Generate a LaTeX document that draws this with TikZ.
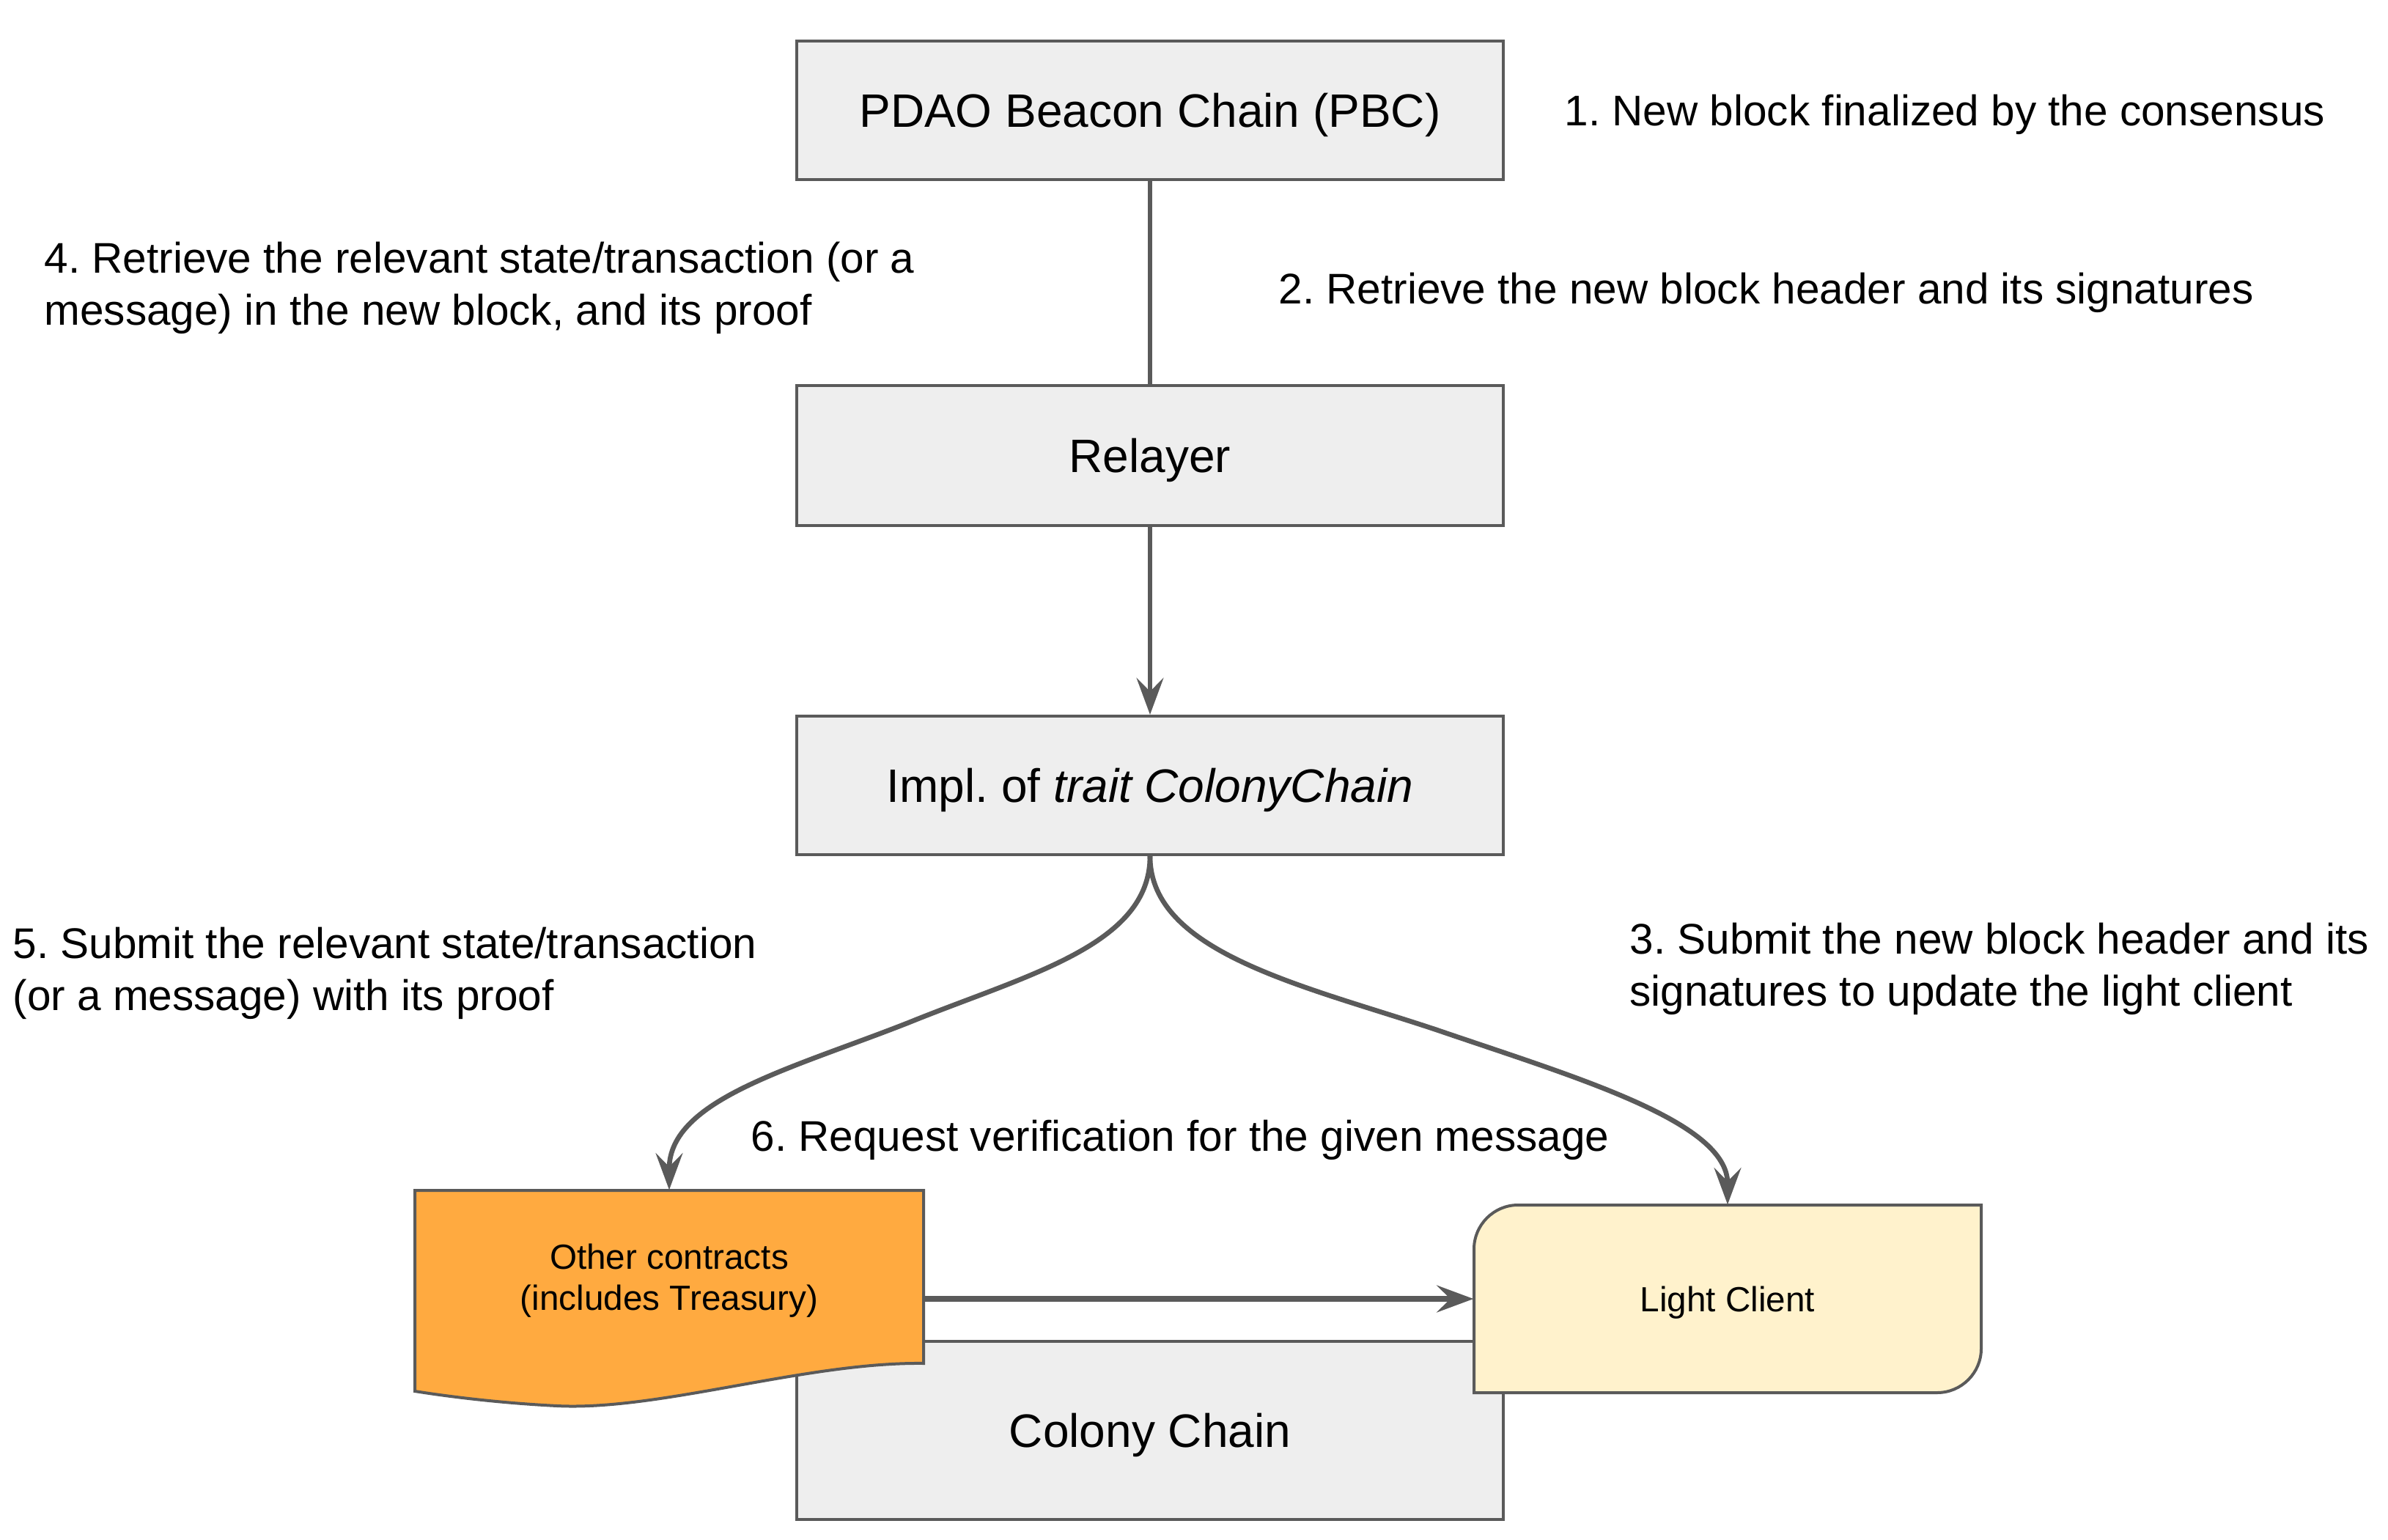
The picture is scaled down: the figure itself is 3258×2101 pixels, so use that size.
\documentclass[tikz,border=0pt]{standalone}
\usepackage{fontspec}
\setmainfont{Liberation Sans}
\usetikzlibrary{arrows.meta}
\frenchspacing
\definecolor{boxfill}{HTML}{EEEEEE}
\definecolor{linegray}{HTML}{5A5A5A}
\definecolor{orangefill}{HTML}{FFAA40}
\definecolor{yellowfill}{HTML}{FFF2CC}
\tikzset{
  box/.style={draw=linegray, fill=boxfill, line width=1.2pt, minimum width=289.2pt, inner sep=0pt,
    text depth=0pt, font=\fontsize{19.2}{23}\selectfont},
  note/.style={inner sep=0pt, align=left, font=\fontsize{17.55}{21.3}\selectfont},
  small/.style={inner sep=0pt, align=center, text depth=0pt, font=\fontsize{14.3}{16.8}\selectfont},
  conn/.style={draw=linegray, line width=2pt},
  tip/.style={-{Stealth[length=15pt, width=11pt, inset=5.5pt]}},
}
\begin{document}
\begin{tikzpicture}[x=0.3pt,y=-0.3pt]
\useasboundingbox (0,0) rectangle (3258,2101);

% Colony Chain (behind)
\node[box, minimum height=72.9pt] (colony) at (1569,1951) {Colony Chain};

% Other contracts (document shape)
\path[draw=linegray, fill=orangefill, line width=1.2pt]
  (566,1624) -- (1260,1624) -- (1260,1860)
  .. controls (1100,1858) and (900,1925) .. (760,1918)
  .. controls (680,1914) and (610,1905) .. (566,1898) -- cycle;
\node[small, minimum width=208.2pt, minimum height=70.8pt] (other) at (913,1742)
  {Other contracts\\(includes Treasury)};

% Light client
\path[draw=linegray, fill=yellowfill, line width=1.2pt]
  (2071,1644) -- (2703,1644) -- (2703,1840)
  .. controls (2703,1873) and (2676,1900) .. (2643,1900)
  -- (2011,1900) -- (2011,1704)
  .. controls (2011,1671) and (2038,1644) .. (2071,1644) -- cycle;
\node[small, minimum width=207.6pt, minimum height=76.8pt] (lc) at (2357,1772) {Light Client};

% Top boxes
\node[box, minimum height=56.7pt] (pbc) at (1569,150.5) {PDAO Beacon Chain (PBC)};
\node[box, minimum height=57.3pt] (relayer) at (1569,621.5) {Relayer};
\node[box, minimum height=56.7pt] (impl) at (1569,1071.5) {Impl. of \textit{trait ColonyChain}};

% Connectors
\draw[conn] (pbc.south) -- (relayer.north);
\draw[conn, tip] (relayer.south) -- (impl.north);
\draw[conn, tip] (impl.south) .. controls (1569,1290) and (1400,1330) .. (1240,1395)
  .. controls (1080,1458) and (913,1500) .. (other.north);
\draw[conn, tip] (impl.south) .. controls (1569,1300) and (1780,1345) .. (1960,1405)
  .. controls (2150,1470) and (2357,1530) .. (lc.north);
\draw[conn, line width=2.6pt, tip] (other.east |- lc.west) -- (lc.west);

% Annotations
\node[note, anchor=base west] (t1) at (2134,172) {1. New block finalized by the consensus};
\node[note, anchor=base west] (t2) at (1744,415) {2. Retrieve the new block header and its signatures};
\node[note, anchor=west] (t4) at (60,393) {4. Retrieve the relevant state/transaction (or a\\message) in the new block, and its proof};
\node[note, anchor=west] (t5) at (17,1328) {5. Submit the relevant state/transaction\\(or a message) with its proof};
\node[note, anchor=west] (t3) at (2223,1322) {3. Submit the new block header and its\\signatures to update the light client};
\node[note, anchor=base west] (t6) at (1024,1570) {6. Request verification for the given message};
\end{tikzpicture}
\end{document}
